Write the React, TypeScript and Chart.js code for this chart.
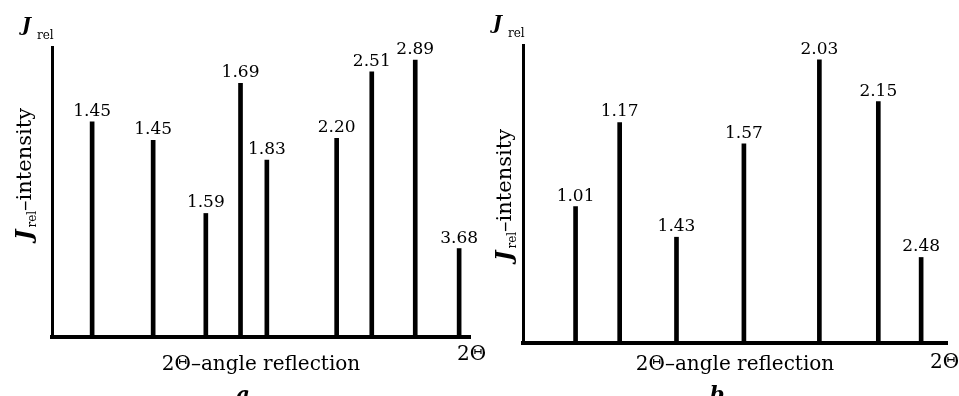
import React, { useEffect, useRef } from "react";
import { Chart, registerables } from "chart.js";

Chart.register(...registerables);

// Panel a
const posA = [9.6, 24.2, 36.8, 45.1, 51.4, 68.1, 76.5, 86.9, 97.4];
const intA = [74.2, 67.8, 42.6, 87.5, 61.0, 68.5, 91.4, 95.5, 30.5];
const labA = ["1.45", "1.45", "1.59", "1.69", "1.83", "2.20", "2.51", "2.89", "3.68"];

// Panel b
const posB = [12.4, 22.8, 36.2, 52.1, 69.9, 83.8, 93.9];
const intB = [45.8, 74.0, 35.5, 66.8, 95.0, 81.0, 28.7];
const labB = ["1.01", "1.17", "1.43", "1.57", "2.03", "2.15", "2.48"];

const xTitle = "2Θ–angle reflection";
const xEnd = "2Θ";
const yTitleMain = "–intensity";

const FONT = "'DejaVu Serif', serif";

type Panel = {
  pos: number[];
  ints: number[];
  labs: string[];
  letter: string;
  pad: { left: number; top: number; right: number; bottom: number };
  yTitleY: number;
  endDy: number;
  endDx: number;
  canvasLeft: number;
  canvasWidth: number;
};

const panels: Panel[] = [
  {
    pos: posA,
    ints: intA,
    labs: labA,
    letter: "a",
    pad: { left: 52, top: 47, right: 30, bottom: 59 },
    yTitleY: 174,
    endDx: -13,
    endDy: 23,
    canvasLeft: 0,
    canvasWidth: 500,
  },
  {
    pos: posB,
    ints: intB,
    labs: labB,
    letter: "b",
    pad: { left: 43, top: 45, right: 12, bottom: 53 },
    yTitleY: 195,
    endDx: -17,
    endDy: 25,
    canvasLeft: 480,
    canvasWidth: 479,
  },
];

function makePlugin(p: Panel) {
  return {
    id: "texts",
    afterDraw(chart: any) {
      const ctx = chart.ctx as CanvasRenderingContext2D;
      const ca = chart.chartArea;
      const meta = chart.getDatasetMeta(0);
      ctx.save();
      ctx.fillStyle = "#000";
      // value labels
      ctx.font = `17px ${FONT}`;
      ctx.textAlign = "center";
      ctx.textBaseline = "alphabetic";
      meta.data.forEach((el: any, i: number) => {
        ctx.fillText(p.labs[i], el.x, el.y - 6);
      });
      // J_rel top
      ctx.textAlign = "left";
      ctx.font = `italic bold 19px ${FONT}`;
      ctx.fillText("J", ca.left - 30, ca.top - 16);
      ctx.font = `12px ${FONT}`;
      ctx.fillText("rel", ca.left - 15, ca.top - 8);
      // y title rotated
      ctx.save();
      ctx.translate(31, p.yTitleY);
      ctx.rotate(-Math.PI / 2);
      ctx.font = `italic bold 22px ${FONT}`;
      const wJ = ctx.measureText("J").width;
      ctx.font = `12px ${FONT}`;
      const wRel = ctx.measureText("rel").width;
      ctx.font = `21px ${FONT}`;
      const wMain = ctx.measureText(yTitleMain).width;
      const total = wJ + 2 + wRel + wMain;
      let x = -total / 2;
      ctx.textAlign = "left";
      ctx.font = `italic bold 22px ${FONT}`;
      ctx.fillText("J", x, 0);
      x += wJ + 2;
      ctx.font = `12px ${FONT}`;
      ctx.fillText("rel", x, 5);
      x += wRel;
      ctx.font = `21px ${FONT}`;
      ctx.fillText(yTitleMain, x, 0);
      ctx.restore();
      // x title
      ctx.textAlign = "center";
      ctx.font = `20px ${FONT}`;
      ctx.fillText(xTitle, (ca.left + ca.right) / 2, 370);
      // end label
      ctx.textAlign = "left";
      ctx.fillText(xEnd, ca.right + p.endDx, ca.bottom + p.endDy);
      // panel letter
      ctx.textAlign = "center";
      ctx.font = `italic bold 21px ${FONT}`;
      ctx.fillText(p.letter, (ca.left + ca.right) / 2 - 18, 401);
      ctx.restore();
    },
  };
}

function PanelChart({ p }: { p: Panel }) {
  const ref = useRef<HTMLCanvasElement | null>(null);
  useEffect(() => {
    if (!ref.current) return;
    const chart = new Chart(ref.current, {
      type: "bar",
      data: {
        datasets: [
          {
            data: p.pos.map((x, i) => ({ x, y: p.ints[i] })),
            backgroundColor: "#000",
            borderWidth: 0,
            barThickness: 4,
          } as any,
        ],
      },
      options: {
        animation: false,
        responsive: false,
        events: [],
        layout: { padding: p.pad },
        plugins: { legend: { display: false }, tooltip: { enabled: false } },
        scales: {
          x: {
            type: "linear",
            offset: false,
            min: 0,
            max: 100,
            grid: { display: false, drawTicks: false, offset: false },
            ticks: { display: false },
            border: { display: true, color: "#000", width: 4 },
          },
          y: {
            type: "linear",
            min: 0,
            max: 100,
            grid: { display: false, drawTicks: false },
            ticks: { display: false },
            border: { display: true, color: "#000", width: 3 },
          },
        },
      } as any,
      plugins: [makePlugin(p)],
    });
    return () => chart.destroy();
  }, [p]);
  return (
    <canvas
      ref={ref}
      width={p.canvasWidth}
      height={396}
      style={{ display: "block", position: "absolute", left: p.canvasLeft, top: 0 }}
    />
  );
}

export default function App() {
  return (
    <div
      style={{
        position: "fixed",
        left: 0,
        top: 0,
        width: 959,
        height: 396,
        overflow: "hidden",
        background: "#fff",
      }}
    >
      <PanelChart p={panels[0]} />
      <PanelChart p={panels[1]} />
    </div>
  );
}
